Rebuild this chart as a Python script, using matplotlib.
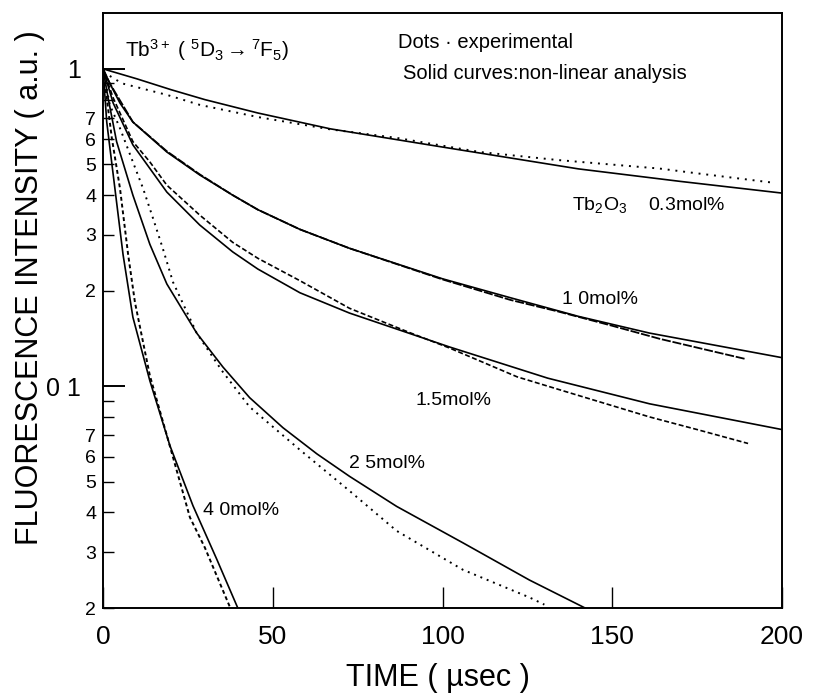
import matplotlib
matplotlib.use("Agg")
import matplotlib.pyplot as plt
from matplotlib.ticker import FixedLocator, FixedFormatter

plt.rcParams['font.family'] = ['Liberation Sans', 'DejaVu Sans']
plt.rcParams['mathtext.fontset'] = 'custom'
plt.rcParams['mathtext.rm'] = 'Liberation Sans'
plt.rcParams['mathtext.it'] = 'Liberation Sans:italic'

# solid curves (non-linear analysis)
fit_03_t = [0, 10, 20, 30, 45.6, 67, 100, 140, 170, 200]
fit_03_v = [1.0, 0.93, 0.86, 0.80, 0.726, 0.647, 0.567, 0.484, 0.442, 0.406]
fit_10_t = [0, 2, 5, 8.8, 18.8, 28.5, 38.2, 45.6, 58, 72.6, 100, 120, 140, 161, 200]
fit_10_v = [1.0, 0.9, 0.78, 0.68, 0.547, 0.463, 0.40, 0.36, 0.312, 0.272, 0.218, 0.19, 0.166, 0.147, 0.123]
fit_15_t = [0, 3, 8.8, 18.8, 28.5, 38.2, 45.6, 58, 72.6, 102, 131, 161, 200]
fit_15_v = [1.0, 0.78, 0.576, 0.409, 0.322, 0.265, 0.234, 0.197, 0.17, 0.133, 0.106, 0.088, 0.073]
fit_25_t = [0, 1.5, 4, 8.8, 13.8, 18.8, 27.6, 35.3, 43.2, 53, 63, 72.6, 86.5, 106, 125.6, 142]
fit_25_v = [1.0, 0.81, 0.59, 0.40, 0.28, 0.21, 0.147, 0.115, 0.092, 0.074, 0.0612, 0.052, 0.0418, 0.0321, 0.0245, 0.02]
fit_40_t = [0, 1.1, 3.5, 5.9, 8.8, 13.8, 19.7, 26.5, 33.5, 39.7]
fit_40_v = [1.0, 0.68, 0.42, 0.26, 0.165, 0.104, 0.065, 0.042, 0.0285, 0.02]

# experimental dots
exp_03_t = [2, 5.6, 18.8, 28.5, 45.6, 66.8, 86.5, 111, 134, 164, 174, 198]
exp_03_v = [0.95, 0.90, 0.828, 0.77, 0.705, 0.645, 0.606, 0.547, 0.516, 0.485, 0.47, 0.437]
exp_10_t = [0, 2, 8.8, 18.8, 28.5, 38.2, 45.6, 58, 72.6, 100, 120, 134, 150, 164, 178, 189]
exp_10_v = [1.0, 0.9, 0.68, 0.55, 0.465, 0.40, 0.36, 0.312, 0.272, 0.217, 0.187, 0.172, 0.155, 0.141, 0.130, 0.122]
exp_15_t = [0, 3, 8.8, 13.8, 18.8, 28.5, 38.2, 45.6, 58, 72.6, 90, 102, 122, 136.5, 161, 175, 190]
exp_15_v = [1.0, 0.81, 0.59, 0.509, 0.43, 0.346, 0.284, 0.253, 0.215, 0.176, 0.148, 0.132, 0.107, 0.096, 0.080, 0.073, 0.066]
exp_25_t = [0, 2, 5, 8.8, 11.8, 14.7, 17.6, 20.6, 27.6, 35, 43.2, 58, 72.6, 86.5, 106, 125.6, 130]
exp_25_v = [1.0, 0.77, 0.65, 0.509, 0.42, 0.339, 0.272, 0.213, 0.147, 0.112, 0.086, 0.063, 0.0468, 0.035, 0.0264, 0.0216, 0.0205]
exp_40_t = [0, 2.6, 5, 7.4, 9.4, 13.8, 18.8, 25.6, 30, 37.5]
exp_40_v = [1.0, 0.605, 0.42, 0.26, 0.184, 0.108, 0.07, 0.0386, 0.031, 0.02]

minor_ticks = [0.02, 0.03, 0.04, 0.05, 0.06, 0.07, 0.08, 0.09,
               0.2, 0.3, 0.4, 0.5, 0.6, 0.7, 0.8, 0.9]
minor_labels = ['2', '3', '4', '5', '6', '7', '', '',
                '2', '3', '4', '5', '6', '7', '', '']

fig = plt.figure(figsize=(8.13, 6.94), dpi=100)
ax = fig.add_axes([0.1267, 0.1239, 0.8352, 0.8574])

for t, v in [(fit_03_t, fit_03_v), (fit_10_t, fit_10_v), (fit_15_t, fit_15_v),
             (fit_25_t, fit_25_v), (fit_40_t, fit_40_v)]:
    ax.plot(t, v, color='black', lw=1.2)

ax.plot(exp_03_t, exp_03_v, color='black', lw=1.4, ls=(0, (1, 3)))
ax.plot(exp_10_t, exp_10_v, color='black', lw=1.3, ls=(0, (5, 1)))
ax.plot(exp_15_t, exp_15_v, color='black', lw=1.2, ls=(0, (3, 1.5)))
ax.plot(exp_25_t, exp_25_v, color='black', lw=1.4, ls=(0, (1, 2.5)))
ax.plot(exp_40_t, exp_40_v, color='black', lw=1.4, ls=(0, (2, 1.5)))

ax.set_yscale('log')
ax.set_xlim(0, 200)
ax.set_ylim(0.02, 1.5)

ax.yaxis.set_major_locator(FixedLocator([0.1, 1]))
ax.yaxis.set_major_formatter(FixedFormatter(['0 1', '1']))
ax.yaxis.set_minor_locator(FixedLocator(minor_ticks))
ax.yaxis.set_minor_formatter(FixedFormatter(minor_labels))
ax.set_xticks([0, 50, 100, 150, 200])

ax.tick_params(axis='x', direction='in', length=15, width=1, pad=12, labelsize=19)
ax.tick_params(axis='y', which='major', direction='in', length=16, width=1.4, pad=16, labelsize=18)
ax.tick_params(axis='y', which='minor', direction='in', length=8, width=1, pad=5, labelsize=14)
for s in ax.spines.values():
    s.set_linewidth(1.4)

ax.text(0.032, 0.938, r'Tb$^{3+}$ ( $^{5}$D$_{3}$$\rightarrow$$^{7}$F$_{5}$)',
        transform=ax.transAxes, fontsize=15, va='center', ha='left')
ax.text(0.434, 0.951, 'Dots \u00b7 experimental', transform=ax.transAxes,
        fontsize=14.5, va='center', ha='left')
ax.text(0.442, 0.899, 'Solid curves:non-linear analysis', transform=ax.transAxes,
        fontsize=14.5, va='center', ha='left')

ax.text(138, 0.372, r'Tb$_2$O$_3$    0.3mol%', fontsize=14, va='center', ha='left')
ax.text(135.3, 0.187, '1 0mol%', fontsize=14, va='center', ha='left')
ax.text(92, 0.0903, '1.5mol%', fontsize=14, va='center', ha='left')
ax.text(72.6, 0.0572, '2 5mol%', fontsize=14, va='center', ha='left')
ax.text(29.4, 0.0406, '4 0mol%', fontsize=14, va='center', ha='left')

fig.text(30 / 813, 1 - 288 / 694, 'FLUORESCENCE INTENSITY ( a.u. )', rotation=90,
         fontsize=22, va='center', ha='center')
fig.text(438 / 813, 1 - 678 / 694, 'TIME ( \u00b5sec )', fontsize=22,
         va='center', ha='center')

fig.savefig('out.png', dpi=100)
